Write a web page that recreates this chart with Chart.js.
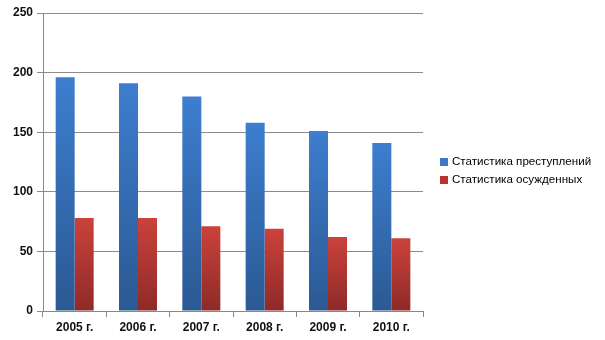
<!DOCTYPE html>
<html>
<head>
<meta charset="utf-8">
<script src="https://cdn.jsdelivr.net/npm/chart.js@4/dist/chart.umd.min.js"></script>
<style>
  body { margin: 0; background: #fff; }
  #wrap { width: 605px; height: 340px; position: relative; }
</style>
</head>
<body>
<div id="wrap"><canvas id="chart" width="605" height="340"></canvas></div>
<script>
// DATA
const categories = ['2005 г.', '2006 г.', '2007 г.', '2008 г.', '2009 г.', '2010 г.'];
const crimes = [196, 191, 180, 158, 151, 141];
const convicted = [78, 78, 71, 69, 62, 61];
const seriesNames = ['Статистика преступлений', 'Статистика осужденных'];
const yTicks = [0, 50, 100, 150, 200, 250];

// per-bar vertical gradient, light on top
function barGradient(top, bottom) {
    return function (ctx) {
        const chart = ctx.chart;
        if (!chart.chartArea || ctx.parsed === undefined) return top;
        const y = chart.scales.y;
        const y0 = y.getPixelForValue(ctx.parsed.y);
        const y1 = y.getPixelForValue(0);
        const g = chart.ctx.createLinearGradient(0, y0, 0, y1);
        g.addColorStop(0, top);
        g.addColorStop(1, bottom);
        return g;
    };
}

const legendColors = ['#3a78c8', '#b9332f'];

// LEGEND drawn at fixed place on the right
const sideLegend = {
    id: 'sideLegend',
    afterDraw(chart) {
        const c = chart.ctx;
        c.save();
        c.font = '11.6px "Liberation Sans", Arial, sans-serif';
        c.textBaseline = 'middle';
        seriesNames.forEach((name, i) => {
            const y = 162 + i * 18;
            c.fillStyle = legendColors[i];
            c.fillRect(440, y - 4, 8, 8);
            c.fillStyle = '#000';
            c.fillText(name, 452, y);
        });
        c.restore();
    }
};

const ctx = document.getElementById('chart').getContext('2d');

new Chart(ctx, {
    type: 'bar',
    data: {
        labels: categories,
        datasets: [{
            label: seriesNames[0],
            data: crimes,
            backgroundColor: barGradient('#3d7ecf', '#2b5993')
        }, {
            label: seriesNames[1],
            data: convicted,
            backgroundColor: barGradient('#cb423b', '#8e2a28')
        }]
    },
    options: {
        responsive: false,
        animation: false,
        layout: { padding: { top: 13, right: 182, left: 0, bottom: 0 } },
        plugins: {
            legend: { display: false },
            tooltip: { enabled: false }
        },
        datasets: {
            bar: { categoryPercentage: 0.6, barPercentage: 1 }
        },
        scales: {
            x: {
                grid: { drawOnChartArea: false, tickLength: 6, color: '#888', offset: true },
                border: { color: '#888' },
                ticks: { color: '#111', padding: 3, font: { family: '"Liberation Sans", Arial, sans-serif', size: 12, weight: 'bold' } },
                afterFit(scale) { scale.height = 29; }
            },
            y: {
                min: 0,
                max: 250,
                afterBuildTicks(scale) { scale.ticks = yTicks.map(v => ({ value: v })); },
                grid: { color: '#8c8c8c', tickLength: 6 },
                border: { color: '#888' },
                ticks: { color: '#111', padding: 4, font: { family: '"Liberation Sans", Arial, sans-serif', size: 12, weight: 'bold' } },
                afterFit(scale) { scale.width = 43; }
            }
        }
    },
    plugins: [sideLegend]
});
</script>
</body>
</html>
